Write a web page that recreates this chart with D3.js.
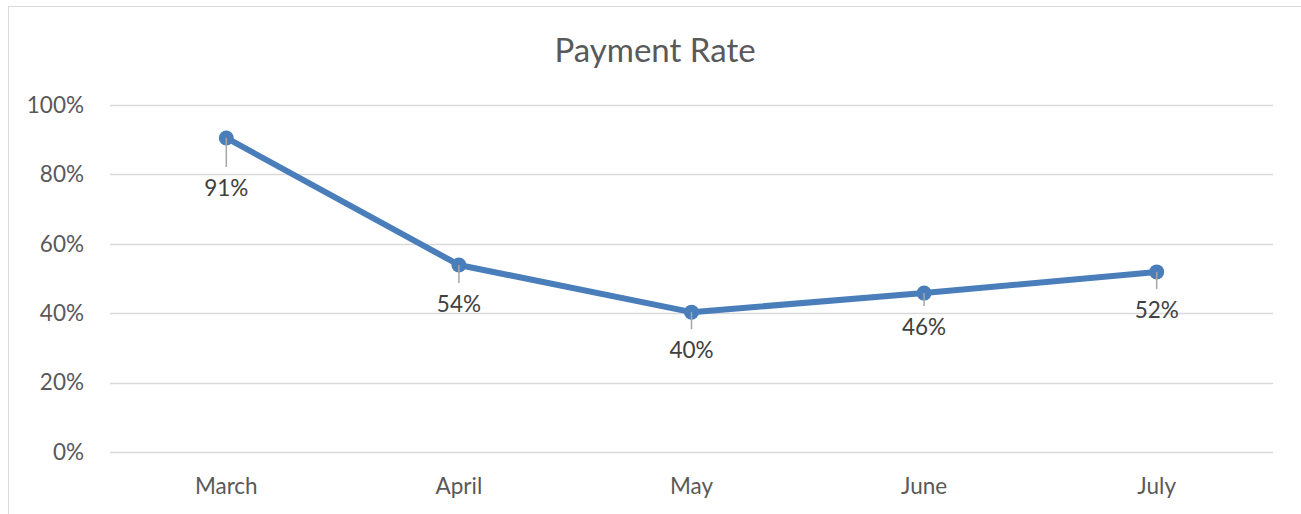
<!DOCTYPE html>
<html>
<head>
<meta charset="utf-8">
<script src="https://cdn.jsdelivr.net/npm/d3@7"></script>
<style>
    body { margin: 0; background: #fff; }
    svg { display: block; font-family: Lato, "Open Sans", "Liberation Sans", sans-serif; }
</style>
</head>
<body>
<div id="chart"></div>
<script>
// chart data
const months = ['March', 'April', 'May', 'June', 'July'];
const paymentRate = [0.905, 0.539, 0.403, 0.458, 0.519];
const yTicks = [0, 0.2, 0.4, 0.6, 0.8, 1.0];

// label leader lengths (layout only)
const labelOffset = [50, 39, 38, 34, 38];

const width = 1301;
const height = 514;
const margin = { top: 105, right: 28, bottom: 62, left: 110 };

const svg = d3.select('#chart')
    .append('svg')
    .attr('width', width)
    .attr('height', height);

// outer chart frame (left and top edges visible)
svg.append('line').attr('x1', 8.5).attr('x2', 8.5).attr('y1', 6).attr('y2', height)
    .attr('stroke', '#d9d9d9').attr('stroke-width', 1);
svg.append('line').attr('x1', 8).attr('x2', width).attr('y1', 6.5).attr('y2', 6.5)
    .attr('stroke', '#d9d9d9').attr('stroke-width', 1);

const xScale = d3.scaleBand()
    .domain(months)
    .range([margin.left, width - margin.right]);

const yScale = d3.scaleLinear()
    .domain([0, 1])
    .range([height - margin.bottom, margin.top]);

// gridlines
svg.append('g')
    .selectAll('line')
    .data(yTicks)
    .join('line')
    .attr('x1', margin.left)
    .attr('x2', width - margin.right)
    .attr('y1', d => Math.round(yScale(d)) + 0.5)
    .attr('y2', d => Math.round(yScale(d)) + 0.5)
    .attr('stroke', '#d9d9d9')
    .attr('stroke-width', 1.5);

// y axis labels
svg.append('g')
    .selectAll('text')
    .data(yTicks)
    .join('text')
    .attr('x', 84)
    .attr('y', d => yScale(d))
    .attr('dy', '0.35em')
    .attr('text-anchor', 'end')
    .attr('fill', '#595959')
    .style('font-size', '22.5px')
    .text(d => d3.format('.0%')(d));

// x axis labels
svg.append('g')
    .selectAll('text')
    .data(months)
    .join('text')
    .attr('x', d => xScale(d) + xScale.bandwidth() / 2)
    .attr('y', height - margin.bottom + 34)
    .attr('dy', '0.35em')
    .attr('text-anchor', 'middle')
    .attr('fill', '#595959')
    .style('font-size', '22.5px')
    .text(d => d);

// title
svg.append('text')
    .attr('x', 655)
    .attr('y', 50)
    .attr('dy', '0.35em')
    .attr('text-anchor', 'middle')
    .attr('fill', '#595959')
    .style('font-size', '33px')
    .text('Payment Rate');

const cx = (d, i) => xScale(months[i]) + xScale.bandwidth() / 2;

// the line
const line = d3.line()
    .x((d, i) => cx(d, i))
    .y(d => yScale(d));

svg.append('path')
    .datum(paymentRate)
    .attr('d', line)
    .attr('fill', 'none')
    .attr('stroke', '#4a7ebb')
    .attr('stroke-width', 6)
    .attr('stroke-linejoin', 'round');

// markers
svg.append('g')
    .selectAll('circle')
    .data(paymentRate)
    .join('circle')
    .attr('cx', (d, i) => cx(d, i))
    .attr('cy', d => yScale(d))
    .attr('r', 7.5)
    .attr('fill', '#4a7ebb');

// leader lines
svg.append('g')
    .selectAll('line')
    .data(paymentRate)
    .join('line')
    .attr('x1', (d, i) => cx(d, i))
    .attr('x2', (d, i) => cx(d, i))
    .attr('y1', d => yScale(d))
    .attr('y2', (d, i) => yScale(d) + labelOffset[i] - 21)
    .attr('stroke', '#a6a6a6')
    .attr('stroke-width', 1.5);

// data labels
svg.append('g')
    .selectAll('text')
    .data(paymentRate)
    .join('text')
    .attr('x', (d, i) => cx(d, i))
    .attr('y', (d, i) => yScale(d) + labelOffset[i])
    .attr('dy', '0.35em')
    .attr('text-anchor', 'middle')
    .attr('fill', '#404040')
    .style('font-size', '22.5px')
    .text(d => d3.format('.0%')(d));
</script>
</body>
</html>
